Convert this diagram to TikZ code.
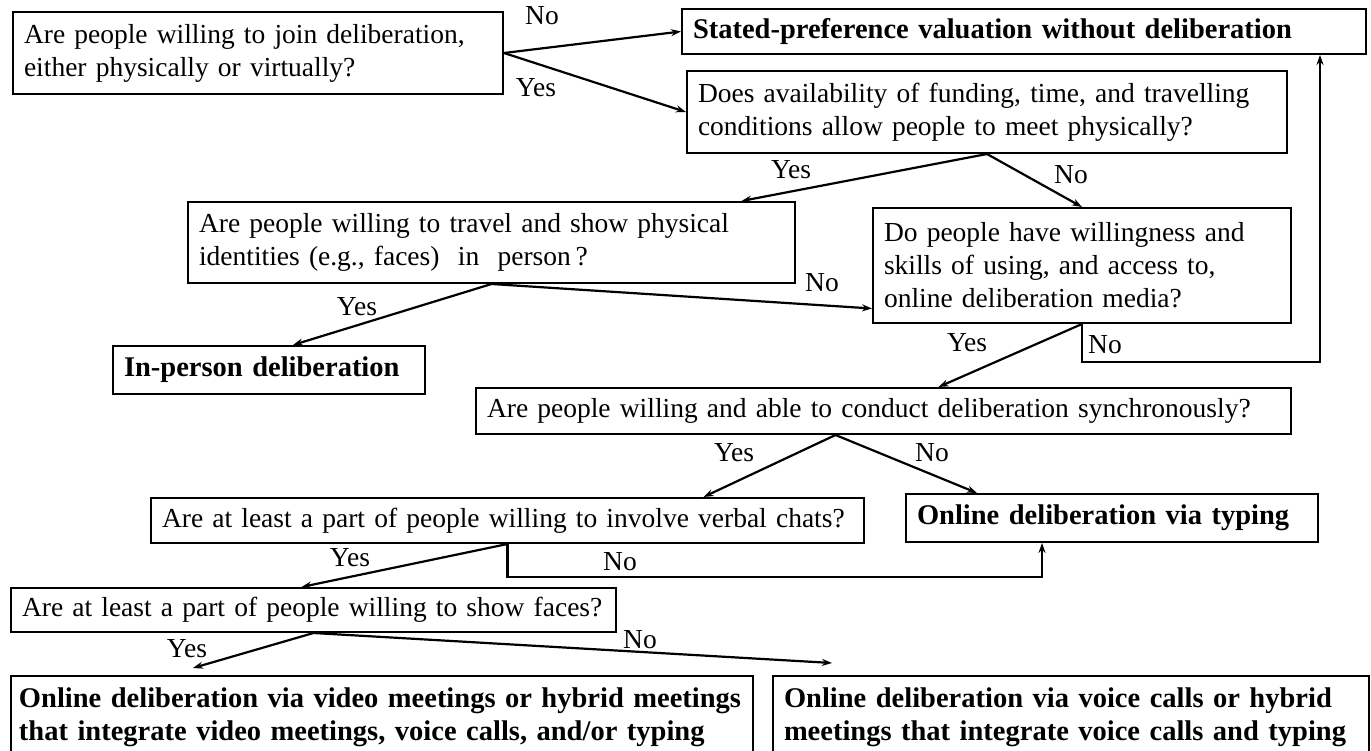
\documentclass[tikz,border=0pt]{standalone}
\usepackage{fontspec}
\setmainfont{Liberation Serif}
\usetikzlibrary{arrows.meta}

\begin{document}
\begin{tikzpicture}[
  x=1pt, y=-1pt,
  ask/.style={draw, line width=2pt, anchor=north west, align=left, inner xsep=11pt, font=\fontsize{27.5}{33}\selectfont},
  result/.style={ask, font=\fontsize{28.5}{33}\selectfont\bfseries},
  edge/.style={line width=2.2pt, -{Stealth[length=10pt,width=7pt]}},
  lbl/.style={font=\fontsize{27.5}{30}\selectfont, inner sep=0pt}
]
  \useasboundingbox (0,0) rectangle (1371,751);

  % Questions and outcomes - top to bottom
  \node[ask, text width=468pt, minimum height=82pt] (join) at (12,11) {Are people willing to join deliberation,\\either physically or virtually?};
  \node[result, text width=662pt, minimum height=45pt] (nodelib) at (681,8) {Stated-preference valuation without deliberation};
  \node[ask, text width=578pt, minimum height=82pt] (funding) at (686,70) {Does availability of funding, time, and travelling\\conditions allow people to meet physically?};
  \node[ask, text width=585pt, minimum height=81pt] (travel) at (187,201) {Are people willing to travel and show physical\\identities (e.g., faces) \ in \ person\,?};
  \node[ask, text width=396pt, minimum height=115pt] (online) at (872,207) {Do people have willingness and\\skills of using, and access to,\\online deliberation media?};
  \node[result, text width=290pt, minimum height=48pt] (inperson) at (112,345) {In-person deliberation};
  \node[ask, text width=793pt, minimum height=46pt] (sync) at (475,387) {Are people willing and able to conduct deliberation synchronously?};
  \node[ask, text width=691pt, minimum height=45pt] (verbal) at (150,497) {Are at least a part of people willing to involve verbal chats?};
  \node[result, text width=390pt, minimum height=48pt] (typing) at (905,493) {Online deliberation via typing};
  \node[ask, text width=583pt, minimum height=44pt] (faces) at (10,587) {Are at least a part of people willing to show faces?};
  \node[result, inner xsep=8pt, text width=726pt, minimum height=82pt] (video) at (10,675) {Online deliberation via video meetings or hybrid meetings\\that integrate video meetings, voice calls, and/or typing};
  \node[result, text width=574pt, minimum height=82pt] (voice) at (772,675) {Online deliberation via voice calls or hybrid\\meetings that integrate voice calls and typing};

  % Branches
  \draw[edge] (join.east) -- (nodelib.west);
  \draw[edge] (join.east) -- (funding.west);
  \draw[edge] (funding.south) -- ([xshift=250pt]travel.north);
  \draw[edge] (funding.south) -- (online.north);
  \draw[edge] (travel.south) -- ([xshift=24pt]inperson.north);
  \draw[edge] (travel.south) -- ([yshift=-43pt]online.west);
  \draw[edge] (online.south) -- ([xshift=55pt]sync.north);
  \coordinate (turn) at (1320,362);
  \draw[edge] (online.south) |- (turn) -- (turn |- nodelib.south);
  \draw[edge] ([xshift=-48pt]sync.south) -- ([xshift=196pt]verbal.north);
  \draw[edge] ([xshift=-48pt]sync.south) -- ([xshift=-135pt]typing.north);
  \draw[edge] (verbal.south) -- ([xshift=-12pt]faces.north);
  \draw[edge] (verbal.south) |- ([xshift=-70pt,yshift=-34pt]typing.south) -- ([xshift=-70pt]typing.south);
  \draw[edge] (faces.south) -- ([xshift=-189pt,yshift=7pt]video.north);
  \draw[edge] (faces.south) -- ([xshift=60pt,yshift=12pt]voice.north west);

  % Yes / No labels
  \node[lbl] (no1) at (542,16) {No};
  \node[lbl] (yes1) at (536,88) {Yes};
  \node[lbl] (yes2) at (791,170) {Yes};
  \node[lbl] (no2) at (1071,175) {No};
  \node[lbl] (yes3) at (357,307) {Yes};
  \node[lbl] (no3) at (822,283) {No};
  \node[lbl] (yes4) at (967,343) {Yes};
  \node[lbl] (no4) at (1105,345) {No};
  \node[lbl] (yes5) at (734,453) {Yes};
  \node[lbl] (no5) at (932,453) {No};
  \node[lbl] (yes6) at (350,558) {Yes};
  \node[lbl] (no6) at (620,562) {No};
  \node[lbl] (yes7) at (187,649) {Yes};
  \node[lbl] (no7) at (640,640) {No};
\end{tikzpicture}
\end{document}
